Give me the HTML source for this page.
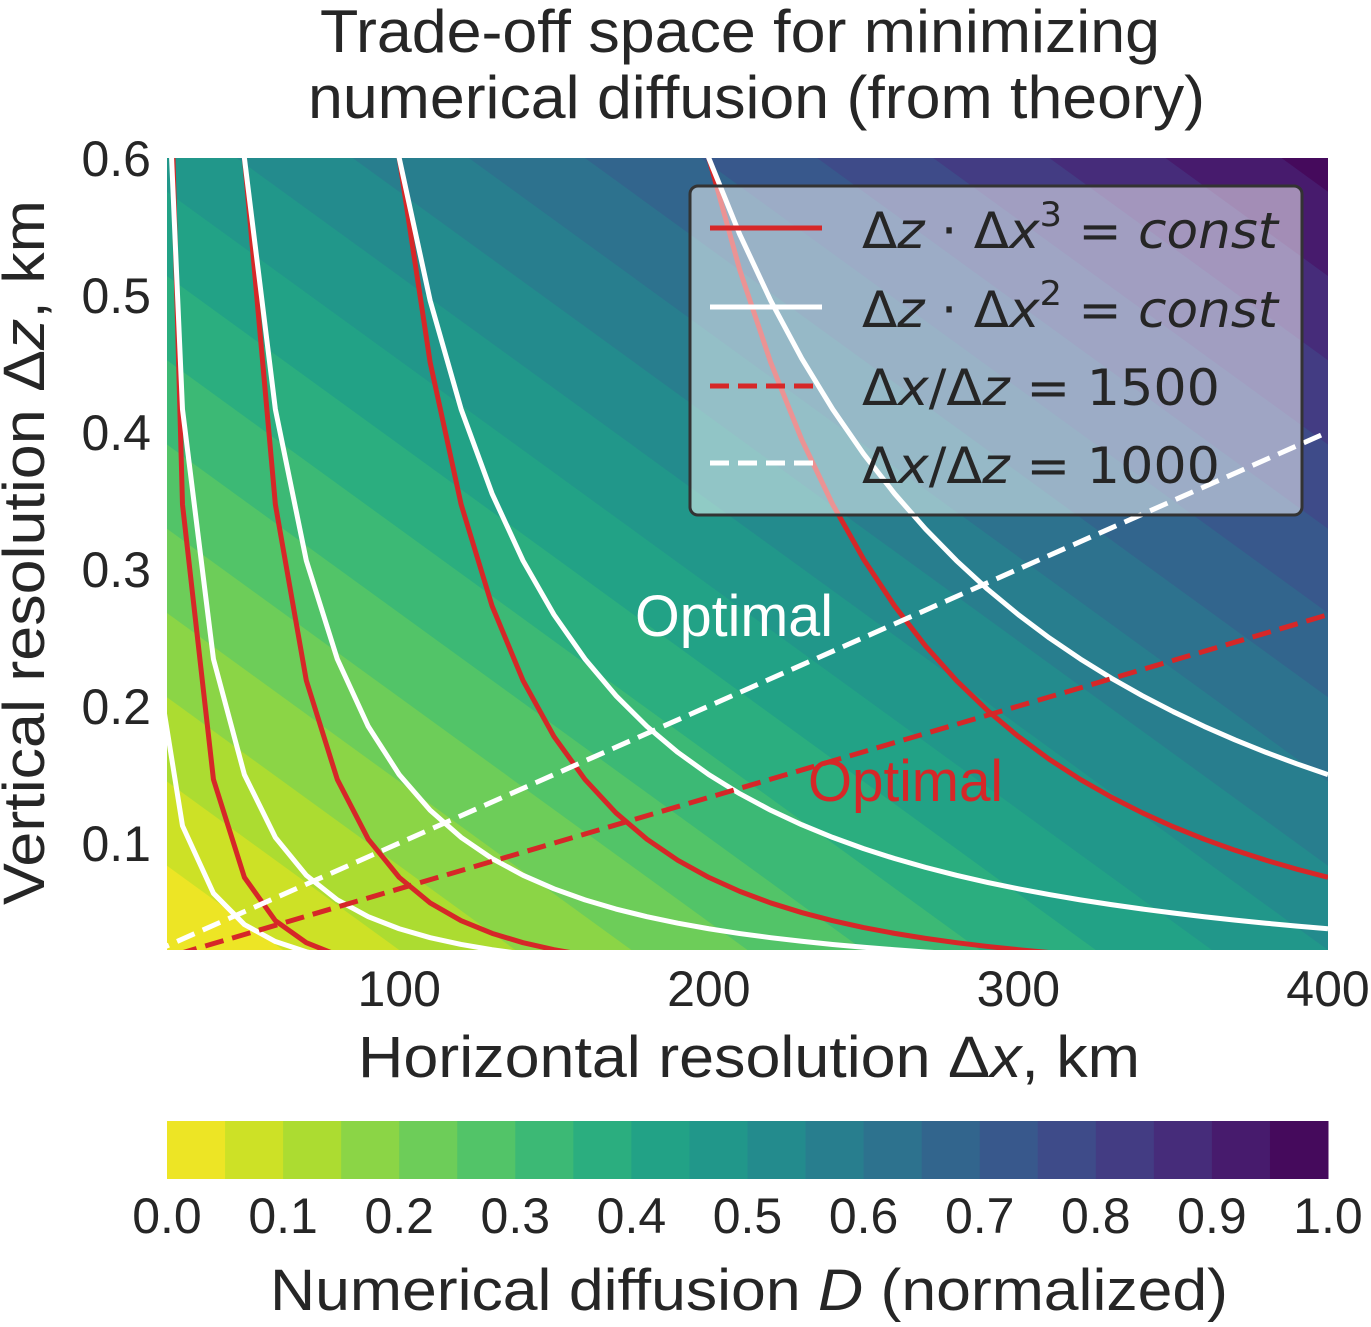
<!DOCTYPE html>
<html><head><meta charset="utf-8"><style>
body{margin:0;background:#fff}
svg text{font-family:"Liberation Sans","DejaVu Sans",sans-serif;fill:#262626}
svg text.m{font-family:"DejaVu Sans","Liberation Sans",sans-serif}
</style></head><body>
<svg id="chart" width="1371" height="1322" viewBox="0 0 1371 1322" xmlns="http://www.w3.org/2000/svg">
<defs><clipPath id="pc"><rect x="167" y="158" width="1161" height="792"/></clipPath></defs>
<text x="320" y="52" font-size="60" textLength="840" lengthAdjust="spacingAndGlyphs">Trade-off space for minimizing</text>
<text x="308" y="118" font-size="60" textLength="897" lengthAdjust="spacingAndGlyphs">numerical diffusion (from theory)</text>
<g id="bands" clip-path="url(#pc)"></g>
<g id="lines" clip-path="url(#pc)"></g>
<g id="xticks"></g>
<g id="yticks"></g>
<text x="358" y="1077" font-size="58" textLength="782" lengthAdjust="spacingAndGlyphs">Horizontal resolution Δ<tspan font-style="italic">x</tspan>, km</text>
<text transform="translate(44,905) rotate(-90)" font-size="58" textLength="705" lengthAdjust="spacingAndGlyphs">Vertical resolution Δ<tspan font-style="italic">z</tspan>, km</text>
<text x="635" y="636" font-size="58" textLength="198" lengthAdjust="spacingAndGlyphs" style="fill:#fff">Optimal</text>
<text x="808" y="801" font-size="58" textLength="195" lengthAdjust="spacingAndGlyphs" style="fill:#d62728">Optimal</text>
<g>
<rect x="690" y="186" width="612" height="329" rx="8" fill="#fff" fill-opacity="0.5" stroke="#333" stroke-width="3"/>
<line x1="710" y1="228" x2="822" y2="228" stroke="#d62728" stroke-width="5"/>
<line x1="710" y1="307" x2="822" y2="307" stroke="#fff" stroke-width="5"/>
<line x1="710" y1="386" x2="822" y2="386" stroke="#d62728" stroke-width="5" stroke-dasharray="19 9"/>
<line x1="710" y1="463" x2="822" y2="463" stroke="#fff" stroke-width="5" stroke-dasharray="19 9"/>
<text class="m" x="862" y="248" font-size="50" textLength="416" lengthAdjust="spacingAndGlyphs">Δ<tspan font-style="italic">z</tspan> · Δ<tspan font-style="italic">x</tspan><tspan font-size="34" dy="-22">3</tspan><tspan dy="22"> = </tspan><tspan font-style="italic">const</tspan></text>
<text class="m" x="862" y="327" font-size="50" textLength="416" lengthAdjust="spacingAndGlyphs">Δ<tspan font-style="italic">z</tspan> · Δ<tspan font-style="italic">x</tspan><tspan font-size="34" dy="-22">2</tspan><tspan dy="22"> = </tspan><tspan font-style="italic">const</tspan></text>
<text class="m" x="862" y="405" font-size="50" textLength="358" lengthAdjust="spacingAndGlyphs">Δ<tspan font-style="italic">x</tspan>/Δ<tspan font-style="italic">z</tspan> = 1500</text>
<text class="m" x="862" y="483" font-size="50" textLength="358" lengthAdjust="spacingAndGlyphs">Δ<tspan font-style="italic">x</tspan>/Δ<tspan font-style="italic">z</tspan> = 1000</text>
</g>
<g id="cbar"></g>
<text x="270" y="1310" font-size="58" textLength="958" lengthAdjust="spacingAndGlyphs">Numerical diffusion <tspan font-style="italic">D</tspan> (normalized)</text>
</svg>
<script>
const xTicks=[100,200,300,400];
const yTicks=[0.1,0.2,0.3,0.4,0.5,0.6];
const cbarTicks=[0,0.1,0.2,0.3,0.4,0.5,0.6,0.7,0.8,0.9,1.0];
const levels=[0,0.05,0.1,0.15,0.2,0.25,0.3,0.35,0.4,0.45,0.5,0.55,0.6,0.65,0.7,0.75,0.8,0.85,0.9,0.95,1.0];
const redX0=[25,50,100,200];
const whiteX0=[13,25,50,100,200];
const ratios=[1500,1000];
const NS='http://www.w3.org/2000/svg';
const X0=25,X1=400,Z0=0.022,Z1=0.6,L=167,R=1328,T=158,B=950;
const sx=v=>L+(v-X0)/(X1-X0)*(R-L);
const sy=v=>B-(v-Z0)/(Z1-Z0)*(B-T);
const vir=['#440154','#482475','#414487','#355f8d','#2a788e','#21918c','#22a884','#44bf70','#7ad151','#bddf26','#fde725'];
function hex(h){return [1,3,5].map(i=>parseInt(h.substr(i,2),16));}
function cmap(t){t=1-t;t=Math.max(0,Math.min(1,t));const p=t*10,i=Math.min(9,Math.floor(p)),f=p-i;const a=hex(vir[i]),b=hex(vir[i+1]);return 'rgb('+a.map((v,k)=>Math.round(v+(b[k]-v)*f)).join(',')+')';}
function mk(tag,attrs,parent){const e=document.createElementNS(NS,tag);for(const k in attrs)e.setAttribute(k,attrs[k]);parent.appendChild(e);return e;}
const A=0.5,Bc=0.47;
function D(px,py){return A*(px-L)/(R-L)+Bc*(B-py)/(B-T);}
const bands=document.getElementById('bands');
const rectPts=[[L,T],[R,T],[R,B],[L,B]];
function clip(pts,lv){const out=[];for(let i=0;i<pts.length;i++){const p=pts[i],q=pts[(i+1)%pts.length];const dp=D(p[0],p[1])-lv,dq=D(q[0],q[1])-lv;if(dp>=0)out.push(p);if((dp>=0)!==(dq>=0)){const t=dp/(dp-dq);out.push([p[0]+(q[0]-p[0])*t,p[1]+(q[1]-p[1])*t]);}}return out;}
for(let i=0;i<levels.length-1;i++){
  const poly=i===0?rectPts:clip(rectPts,levels[i]);
  if(poly.length<3)continue;
  const el=mk('polygon',{points:poly.map(p=>p.join(',')).join(' '),fill:cmap((levels[i]+levels[i+1])/2)},bands);
  
  
}
const lines=document.getElementById('lines');
const xs=[];for(let x=20;x<=400;x+=10)xs.push(x);
function curve(x0,p,color,name){
  const c=0.6*Math.pow(x0,p);
  const pts=xs.map(x=>[sx(x),sy(c/Math.pow(x,p))]);
  const el=mk('polyline',{points:pts.map(q=>q.join(',')).join(' '),fill:'none',stroke:color,'stroke-width':5,'stroke-linejoin':'round'},lines);
  
  
}
redX0.forEach(x0=>curve(x0,3,'#d62728','red-cubic-curve'));
whiteX0.forEach(x0=>curve(x0,2,'#ffffff','white-square-curve'));
ratios.forEach((r,i)=>{
  const el=mk('line',{x1:sx(20),y1:sy(20/r),x2:sx(400),y2:sy(400/r),stroke:i===0?'#d62728':'#ffffff','stroke-width':5,'stroke-dasharray':'19 9'},lines);
  
  
});
const xt=document.getElementById('xticks');
xTicks.forEach(v=>{const t=mk('text',{x:sx(v),y:1006,'font-size':50,'text-anchor':'middle'},xt);t.textContent=v;
  
  });
const yt=document.getElementById('yticks');
yTicks.forEach(v=>{const t=mk('text',{x:151,y:sy(v)+18,'font-size':50,'text-anchor':'end'},yt);t.textContent=v.toFixed(1);
  
  });
const cb=document.getElementById('cbar');
const cx=v=>L+v*(R-L);
for(let i=0;i<levels.length-1;i++){
  const r=mk('rect',{x:cx(levels[i]),y:1121,width:cx(levels[i+1])-cx(levels[i])+0.5,height:58,fill:cmap((levels[i]+levels[i+1])/2)},cb);
  
  
}
cbarTicks.forEach(v=>{const t=mk('text',{x:cx(v),y:1233,'font-size':50,'text-anchor':'middle'},cb);t.textContent=v.toFixed(1);
  
  });
</script>
</body></html>
